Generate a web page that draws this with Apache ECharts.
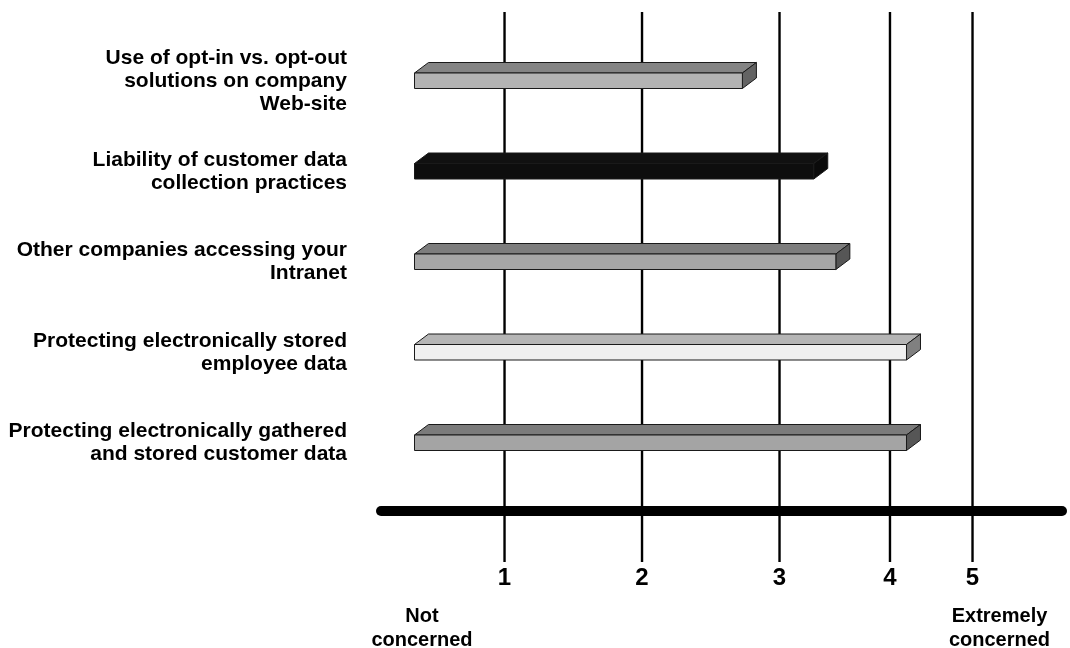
<!DOCTYPE html>
<html>
<head>
<meta charset="utf-8">
<script src="https://cdn.jsdelivr.net/npm/echarts@6/dist/echarts.min.js"></script>
<style>
  html, body { margin: 0; padding: 0; background: #fff; }
  #chart { width: 1070px; height: 648px; }
</style>
</head>
<body>
<div id="chart"></div>
<script>
// Survey items, top to bottom
const categories = [
  'Use of opt-in vs. opt-out\nsolutions on company\nWeb-site',
  'Liability of customer data\ncollection practices',
  'Other companies accessing your\nIntranet',
  'Protecting electronically stored\nemployee data',
  'Protecting electronically gathered\nand stored customer data'
];

// Mean level of concern (1 = not concerned, 5 = extremely concerned)
const concern = [2.73, 3.31, 3.51, 4.20, 4.20];

// Scale points and their labels
const scaleValues = [0, 1, 2, 3, 4, 5];
const tickValues = [1, 2, 3, 4, 5];
const tickLabels = ['1', '2', '3', '4', '5'];
const endLabels = ['Not\nconcerned', 'Extremely\nconcerned'];

// The rating scale is not evenly spaced along the axis: where each scale
// value sits, as a percentage of the axis length
const scaleStops = [4.92, 18.14, 38.33, 58.52, 74.74, 86.86];

function toAxis(v) {
  for (let i = 1; i < scaleValues.length; i++) {
    if (v <= scaleValues[i] || i === scaleValues.length - 1) {
      const a = scaleValues[i - 1], b = scaleValues[i];
      const t = (v - a) / (b - a);
      return scaleStops[i - 1] + t * (scaleStops[i] - scaleStops[i - 1]);
    }
  }
  return scaleStops[0];
}

// Face shades per bar: front, top, side
const barFaces = [
  ['#b3b3b3', '#848484', '#636363'],
  ['#0e0e0e', '#111111', '#0a0a0a'],
  ['#a6a6a6', '#7d7d7d', '#565656'],
  ['#f0f0f0', '#b5b5b5', '#808080'],
  ['#a4a4a4', '#7b7b7b', '#565656']
];

const FONT = '"Liberation Sans", Arial, Helvetica, sans-serif';
const BAR_H = 15.5, DEPTH_X = 14, DEPTH_Y = 10.5;
const EDGE = '#1a1a1a';

function renderBar(params, api) {
  const idx = api.value(1);
  const p0 = api.coord([toAxis(0), idx]);
  const p1 = api.coord([api.value(0), idx]);
  const x0 = p0[0], x1 = p1[0];
  const yt = p1[1] - BAR_H / 2, yb = p1[1] + BAR_H / 2;
  const faces = barFaces[idx];
  return {
    type: 'group',
    children: [
      {
        type: 'polygon',
        shape: { points: [[x0, yt], [x0 + DEPTH_X, yt - DEPTH_Y], [x1 + DEPTH_X, yt - DEPTH_Y], [x1, yt]] },
        style: { fill: faces[1], stroke: EDGE, lineWidth: 1 }
      },
      {
        type: 'polygon',
        shape: { points: [[x1, yt], [x1 + DEPTH_X, yt - DEPTH_Y], [x1 + DEPTH_X, yb - DEPTH_Y], [x1, yb]] },
        style: { fill: faces[2], stroke: EDGE, lineWidth: 1 }
      },
      {
        type: 'rect',
        shape: { x: x0, y: yt, width: x1 - x0, height: BAR_H },
        style: { fill: faces[0], stroke: EDGE, lineWidth: 1 }
      }
    ]
  };
}

// Vertical rules at each scale point, running above the plot and down past the axis
function renderRule(params, api) {
  const x = api.coord([api.value(0), 0])[0];
  const cs = params.coordSys;
  return {
    type: 'line',
    shape: { x1: x, y1: cs.y - 23.5, x2: x, y2: cs.y + cs.height + 74 },
    style: { stroke: '#000', lineWidth: 2.4 }
  };
}

const chart = echarts.init(document.getElementById('chart'));
chart.setOption({
  animation: false,
  backgroundColor: '#ffffff',
  grid: { left: 381, right: 8, top: 35.5, bottom: 160, containLabel: false },
  xAxis: {
    type: 'value',
    min: 0,
    max: 100,
    offset: 23,
    axisLine: { show: true, lineStyle: { color: '#000', width: 10, cap: 'round' } },
    axisTick: { show: false },
    splitLine: { show: false },
    axisLabel: {
      customValues: tickValues.map(toAxis),
      formatter: function (v) {
        for (let i = 0; i < tickValues.length; i++) {
          if (Math.abs(toAxis(tickValues[i]) - v) < 1e-6) return tickLabels[i];
        }
        return '';
      },
      margin: 55,
      fontSize: 24,
      fontWeight: 'bold',
      fontFamily: FONT,
      color: '#000'
    }
  },
  yAxis: {
    type: 'category',
    inverse: true,
    data: categories,
    axisLine: { show: false },
    axisTick: { show: false },
    splitLine: { show: false },
    axisLabel: {
      margin: 34,
      fontSize: 21,
      lineHeight: 23,
      fontWeight: 'bold',
      fontFamily: FONT,
      color: '#000',
      align: 'right'
    }
  },
  series: [
    {
      type: 'custom',
      clip: false,
      z: 1,
      renderItem: renderRule,
      encode: { x: 0, y: 1 },
      data: tickValues.map(v => [toAxis(v), 0])
    },
    {
      type: 'custom',
      clip: false,
      z: 3,
      renderItem: renderBar,
      encode: { x: 0, y: 1 },
      data: concern.map((v, i) => [toAxis(v), i])
    }
  ],
  graphic: [
    {
      type: 'text',
      style: {
        text: endLabels[0], x: 422, y: 628.5,
        align: 'center', verticalAlign: 'middle',
        font: 'bold 20px ' + FONT, lineHeight: 24, fill: '#000'
      }
    },
    {
      type: 'text',
      style: {
        text: endLabels[1], x: 999.5, y: 628.5,
        align: 'center', verticalAlign: 'middle',
        font: 'bold 20px ' + FONT, lineHeight: 24, fill: '#000'
      }
    }
  ]
});
</script>
</body>
</html>
